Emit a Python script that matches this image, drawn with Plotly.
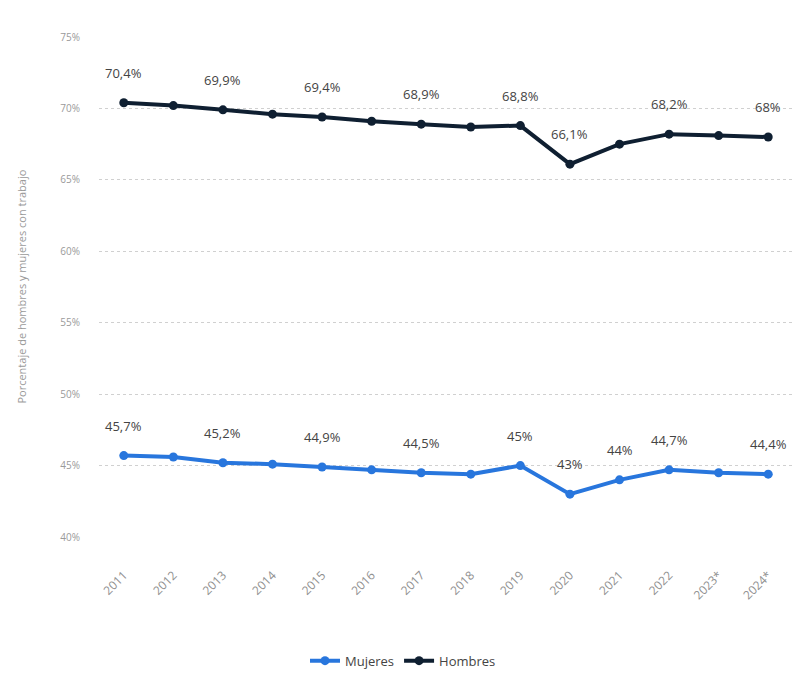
import plotly.graph_objects as go

years = ["2011", "2012", "2013", "2014", "2015", "2016", "2017", "2018",
         "2019", "2020", "2021", "2022", "2023*", "2024*"]
hombres = [70.4, 70.2, 69.9, 69.6, 69.4, 69.1, 68.9, 68.7, 68.8, 66.1, 67.5, 68.2, 68.1, 68.0]
mujeres = [45.7, 45.6, 45.2, 45.1, 44.9, 44.7, 44.5, 44.4, 45.0, 43.0, 44.0, 44.7, 44.5, 44.4]
hombres_labeled = ["2011", "2013", "2015", "2017", "2019", "2020", "2022", "2024*"]
mujeres_labeled = ["2011", "2013", "2015", "2017", "2019", "2020", "2021", "2022", "2024*"]
y_ticks = [40, 45, 50, 55, 60, 65, 70, 75]

C_H = "#0f1f31"
C_M = "#2876dd"


def fmt(v):
    s = ("%.1f" % v).rstrip("0").rstrip(".")
    return s.replace(".", ",") + "%"


fig = go.Figure()
fig.add_trace(go.Scatter(x=years, y=mujeres, name="Mujeres", mode="lines+markers",
                         line=dict(color=C_M, width=4), marker=dict(size=9, color=C_M)))
fig.add_trace(go.Scatter(x=years, y=hombres, name="Hombres", mode="lines+markers",
                         line=dict(color=C_H, width=4), marker=dict(size=9, color=C_H)))

annos = []
for series, labeled in ((hombres, hombres_labeled), (mujeres, mujeres_labeled)):
    for i, (yr, v) in enumerate(zip(years, series)):
        if yr in labeled:
            annos.append(dict(x=i, y=v, xref="x", yref="y", text=fmt(v), showarrow=False,
                              yshift=30,
                              font=dict(family="Open Sans, sans-serif", size=13, color="#444444")))

annos.append(dict(text="Porcentaje de hombres y mujeres con trabajo", xref="paper", yref="paper",
                  x=-0.113, y=0.5, xanchor="center", yanchor="middle", textangle=-90,
                  showarrow=False, font=dict(size=11, color="#9a9a9a")))

fig.update_layout(
    width=790, height=662,
    margin=dict(l=91, r=5, t=29, b=133, autoexpand=False),
    paper_bgcolor="white", plot_bgcolor="white",
    font=dict(family="Open Sans, sans-serif", color="#9a9a9a"),
    annotations=annos,
    showlegend=True,
    legend=dict(orientation="h", xref="container", x=0.5, xanchor="center",
                yref="container", y=0.014, yanchor="middle",
                font=dict(size=13, color="#444444"), traceorder="normal"),
    xaxis=dict(type="category", range=[-0.5, 13.5], tickangle=-45, automargin=False,
               tickfont=dict(size=12, color="#909090"), showgrid=False,
               showline=False, ticks="", ticklabelstandoff=28),
    yaxis=dict(range=[40, 75], tickvals=y_ticks, ticktext=[f"{t}%" for t in y_ticks],
               automargin=False,
               tickfont=dict(size=10, color="#9a9a9a"), showgrid=True,
               gridcolor="#d0d0d0", griddash="dot", gridwidth=1, zeroline=False,
               ticklabelstandoff=18),
)

fig.write_html("out.html")
